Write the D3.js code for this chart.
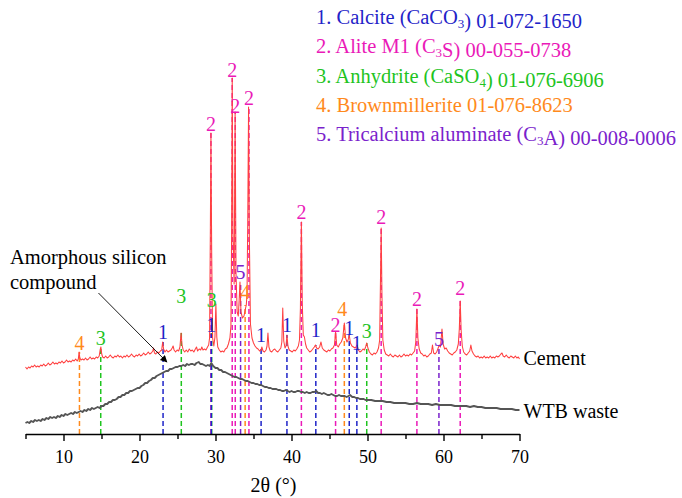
<!DOCTYPE html>
<html>
<head>
<meta charset="utf-8">
<script src="https://cdn.jsdelivr.net/npm/d3@7"></script>
<style>
  body { margin: 0; background: #fff; }
  svg { display: block; }
  text { font-family: "Liberation Serif", "Times New Roman", serif; }
</style>
</head>
<body>
<svg id="chart" width="682" height="498"></svg>
<script>
// XRD patterns: [2θ (°), intensity (a.u.)]
const cementPattern = [
  [5.0,67],[5.2,65],[5.4,67],[5.6,66],[5.8,68],[6.0,67],[6.2,69],[6.4,67],[6.6,68],[6.8,67],
  [7.0,69],[7.2,68],[7.4,70],[7.6,68],[7.8,69],[8.0,71],[8.2,69],[8.4,70],[8.6,72],[8.8,70],
  [9.0,71],[9.2,70],[9.4,72],[9.6,71],[9.8,73],[10.0,71],[10.2,72],[10.4,74],[10.6,72],[10.8,73],
  [11.0,72],[11.2,74],[11.4,73],[11.6,75],[11.8,73],[11.95,75],[12.05,82],[12.15,76],[12.3,74],[12.5,75],
  [12.7,74],[12.9,76],[13.1,74],[13.3,75],[13.5,77],[13.7,75],[13.9,76],[14.1,75],[14.3,77],[14.5,76],
  [14.7,78],[14.82,84],[14.92,87],[15.03,80],[15.15,77],[15.35,76],[15.55,78],[15.75,76],[15.95,77],[16.15,79],
  [16.35,77],[16.55,76],[16.75,78],[16.95,77],[17.15,79],[17.35,77],[17.55,78],[17.75,76],[17.95,78],[18.15,77],
  [18.35,79],[18.55,77],[18.75,78],[18.95,80],[19.15,78],[19.35,77],[19.55,79],[19.75,78],[19.95,80],[20.15,78],
  [20.35,79],[20.55,81],[20.75,79],[20.95,80],[21.15,82],[21.35,80],[21.55,81],[21.75,83],[21.85,86],[21.97,81],
  [22.15,80],[22.35,82],[22.55,81],[22.75,83],[22.92,84],[23.05,92],[23.17,85],[23.35,82],[23.55,84],[23.75,82],
  [23.95,83],[24.15,84],[24.3,86],[24.42,88],[24.55,84],[24.75,82],[24.95,84],[25.15,83],[25.32,87],[25.47,101],
  [25.6,89],[25.75,84],[25.95,82],[26.15,84],[26.35,82],[26.55,85],[26.75,83],[26.95,84],[27.15,82],[27.35,85],
  [27.5,87],[27.65,83],[27.85,85],[28.05,84],[28.2,87],[28.35,84],[28.55,85],[28.75,84],[28.95,87],[29.1,89],
  [29.22,96],[29.32,200],[29.4,301],[29.5,180],[29.62,96],[29.78,88],[29.93,97],[30.05,130],[30.17,97],[30.3,87],
  [30.5,84],[30.7,82],[30.9,83],[31.1,82],[31.3,85],[31.5,86],[31.7,90],[31.9,96],[32.03,108],[32.12,200],
  [32.2,356],[32.3,200],[32.45,150],[32.58,322],[32.7,160],[32.85,122],[33.0,118],[33.12,135],[33.22,152],[33.35,122],
  [33.55,116],[33.75,118],[33.9,124],[34.05,129],[34.15,140],[34.25,220],[34.35,327],[34.45,200],[34.6,110],[34.8,96],
  [35.0,91],[35.2,88],[35.4,86],[35.6,85],[35.8,83],[36.0,84],[36.1,87],[36.25,83],[36.45,82],[36.65,84],
  [36.78,88],[36.9,101],[37.03,87],[37.2,83],[37.4,82],[37.6,84],[37.8,85],[38.0,83],[38.2,82],[38.4,84],
  [38.6,86],[38.73,92],[38.85,126],[38.98,93],[39.15,86],[39.28,88],[39.4,99],[39.53,88],[39.7,84],[39.9,83],
  [40.1,82],[40.3,84],[40.5,83],[40.7,85],[40.9,88],[41.05,94],[41.17,125],[41.3,212],[41.42,130],[41.55,99],
  [41.7,97],[41.85,90],[42.0,86],[42.2,84],[42.4,82],[42.6,83],[42.8,85],[43.0,87],[43.15,89],[43.3,86],
  [43.5,85],[43.7,87],[43.88,92],[44.05,86],[44.25,84],[44.45,83],[44.65,82],[44.85,84],[45.05,83],[45.25,85],
  [45.45,86],[45.65,89],[45.8,102],[45.95,89],[46.15,87],[46.35,90],[46.55,92],[46.75,96],[46.95,111],[47.12,96],
  [47.3,92],[47.45,94],[47.6,99],[47.75,91],[47.95,88],[48.15,87],[48.35,86],[48.5,87],[48.62,89],[48.8,84],
  [49.0,82],[49.2,83],[49.4,85],[49.6,84],[49.75,87],[49.9,91],[50.05,86],[50.25,82],[50.45,80],[50.65,79],
  [50.85,81],[51.05,80],[51.25,82],[51.45,86],[51.6,94],[51.7,150],[51.8,206],[51.9,140],[52.02,94],[52.2,84],
  [52.4,80],[52.6,79],[52.8,78],[53.0,80],[53.2,78],[53.4,77],[53.6,79],[53.8,78],[54.0,77],[54.2,79],
  [54.4,77],[54.6,78],[54.8,80],[55.0,78],[55.2,79],[55.4,78],[55.6,80],[55.8,79],[56.0,81],[56.2,83],
  [56.35,92],[56.5,125],[56.63,96],[56.8,85],[57.0,81],[57.2,80],[57.4,78],[57.6,79],[57.8,77],[58.0,78],
  [58.2,80],[58.4,81],[58.55,89],[58.7,81],[58.9,80],[59.1,82],[59.25,85],[59.45,89],[59.6,87],[59.8,105],
  [59.95,90],[60.15,85],[60.35,86],[60.55,83],[60.75,81],[60.95,80],[61.15,79],[61.35,81],[61.55,82],[61.75,84],
  [61.95,90],[62.08,105],[62.2,133],[62.32,104],[62.47,88],[62.65,82],[62.85,80],[63.05,79],[63.25,81],[63.45,83],
  [63.6,89],[63.75,83],[63.95,80],[64.15,78],[64.35,77],[64.55,78],[64.75,76],[64.95,77],[65.15,76],[65.35,78],
  [65.55,76],[65.75,77],[65.95,76],[66.15,78],[66.35,76],[66.55,77],[66.75,76],[66.95,78],[67.15,77],[67.35,78],
  [67.55,80],[67.7,81],[67.85,78],[68.05,77],[68.25,79],[68.45,77],[68.65,76],[68.85,78],[69.05,77],[69.25,76],
  [69.45,78],[69.65,76],[69.85,77],[70.0,75]
];

const wtbPattern = [
  [5,11],[5.25,12],[5.5,11],[5.75,13],[6,12],[6.25,14],[6.5,13],[6.75,14],[7,13],[7.25,15],
  [7.5,14],[7.75,16],[8,15],[8.25,17],[8.5,16],[8.75,17],[9,16],[9.25,18],[9.5,17],[9.75,19],
  [10,18],[10.25,20],[10.5,19],[10.75,20],[11,21],[11.25,20],[11.5,22],[11.75,21],[12,22],[12.25,23],
  [12.5,22],[12.75,24],[13,23],[13.25,25],[13.5,24],[13.75,26],[14,25],[14.25,26],[14.5,27],[14.75,26],
  [15,28],[15.25,28],[15.5,30],[15.75,30],[16,32],[16.25,32],[16.5,34],[16.75,34],[17,35],[17.25,37],
  [17.5,37],[17.75,39],[18,39],[18.25,41],[18.5,41],[18.75,43],[19,43],[19.25,44],[19.5,45],[19.75,46],
  [20,46],[20.25,48],[20.5,49],[20.75,51],[21,51],[21.25,53],[21.5,54],[21.75,56],[22,56],[22.25,58],
  [22.5,59],[22.75,60],[23,61],[23.25,62],[23.5,63],[23.75,63],[24,65],[24.25,65],[24.5,66],[24.75,67],
  [25,67],[25.25,68],[25.5,68],[25.75,69],[26,68],[26.25,70],[26.5,69],[26.75,70],[27,70],[27.25,69],
  [27.5,71],[27.8,72],[28,70],[28.25,70],[28.5,69],[28.75,68],[29,69],[29.25,68],[29.45,71],[29.7,68],
  [30,66],[30.25,66],[30.5,64],[30.75,64],[31,62],[31.25,62],[31.5,61],[31.75,60],[32,59],[32.25,58],
  [32.5,57],[32.75,57],[33,56],[33.25,55],[33.5,55],[33.75,54],[34,53],[34.25,53],[34.5,52],[34.75,51],
  [35,51],[35.25,50],[35.5,50],[35.75,49],[36,49],[36.25,48],[36.5,47],[36.75,47],[37,46],[37.25,46],
  [37.5,45],[37.75,45],[38,45],[38.25,44],[38.5,44],[38.75,43],[39,43],[39.25,44],[39.5,43],[39.75,42],
  [40,43],[40.25,42],[40.5,42],[40.75,43],[41,43],[41.25,42],[41.5,42],[41.75,41],[42,42],[42.25,41],
  [42.5,41],[42.75,42],[43,42],[43.25,43],[43.5,41],[43.75,41],[44,40],[44.25,41],[44.5,40],[44.75,39],
  [45,39],[45.25,40],[45.5,39],[45.75,38],[46,38],[46.25,39],[46.5,38],[46.75,38],[47,38],[47.25,37],
  [47.5,38],[47.7,39],[48,37],[48.25,37],[48.5,36],[48.75,36],[49,35],[49.25,35],[49.5,35],[49.75,34],
  [50,34],[50.5,34],[51,33],[51.5,33],[52,33],[52.5,32],[53,32],[53.5,31],[54,31],[54.5,31],
  [55,31],[55.5,30],[56,30],[56.5,31],[57,30],[57.5,30],[58,30],[58.5,29],[59,30],[59.5,29],
  [60,29],[60.5,29],[61,29],[61.5,28],[62,28],[62.5,28],[63,28],[63.5,27],[64,28],[64.5,27],
  [65,27],[65.5,26],[66,26],[66.5,26],[67,26],[67.5,25],[68,25],[68.5,25],[69,25],[69.5,24],
  [70,24]
];

// Phase legend entries ("_" marks a one-character subscript)
const phaseIds = [1, 2, 3, 4, 5];
const phaseLabels = [
  "1. Calcite (CaCO_3) 01-072-1650",
  "2. Alite M1 (C_3S) 00-055-0738",
  "3. Anhydrite (CaSO_4) 01-076-6906",
  "4. Brownmillerite 01-076-8623",
  "5. Tricalcium aluminate (C_3A) 00-008-0006"
];

// Reflection markers: phase id, 2θ, intensity where the drop line ends, intensity of the label
const markerPhase = [4, 3, 1, 3, 2, 3, 1, 2, 2, 5, 4, 2, 1, 1, 2, 1, 2, 4, 1, 1, 3, 2, 2, 5, 2];
const markerPos   = [12.1, 14.9, 23.1, 25.5, 29.4, 29.5, 29.45, 32.2, 32.6, 33.3, 33.9, 34.4, 36.0, 39.4, 41.3, 43.2, 45.8, 46.95, 47.6, 48.6, 49.9, 51.8, 56.5, 59.4, 62.2];
const markerTop   = [82, 87, 92, 101, 301, 110, 100, 356, 322, 150, 129, 327, 86, 99, 212, 89, 102, 111, 99, 89, 91, 206, 125, 89, 133];
const markerLabel = [91, 96, 102, 138, 310, 134, 109, 364, 328, 162, 142, 336, 99, 109, 222, 104, 109, 125, 106, 91, 103, 217, 135, 95, 146];

const xTicksMajor = [10, 20, 30, 40, 50, 60, 70];
const xTicksMinor = [5, 15, 25, 35, 45, 55, 65];

const seriesNames = ["Cement", "WTB waste"];

// ---- drawing ----
const phaseColor = d3.scaleOrdinal()
  .domain(phaseIds)
  .range(["#1f24c8", "#ea1ab8", "#1fc41f", "#ff8a1c", "#7a22cc"]);

const svg = d3.select("#chart");
const x = d3.scaleLinear().domain([5, 70]).range([25.5, 519.5]);
const y = d3.scaleLinear().domain([0, 430]).range([434, 4]);

const markers = markerPos.map((p, i) => ({
  phase: markerPhase[i], pos: p, top: markerTop[i], label: markerLabel[i]
}));

// dashed drop lines for the reflections
svg.append("g").selectAll("line").data(markers).join("line")
  .attr("x1", d => x(d.pos)).attr("x2", d => x(d.pos))
  .attr("y1", y(0)).attr("y2", d => y(d.top))
  .attr("stroke", d => phaseColor(d.phase))
  .attr("stroke-width", 1.5)
  .attr("stroke-dasharray", "5,3");

const line = d3.line().x(d => x(d[0])).y(d => y(d[1]));

svg.append("path").datum(wtbPattern)
  .attr("d", line).attr("fill", "none")
  .attr("stroke", "#555").attr("stroke-width", 1.9)
  .attr("stroke-linejoin", "round");

svg.append("path").datum(cementPattern)
  .attr("d", line).attr("fill", "none")
  .attr("stroke", "#ff4040").attr("stroke-width", 1.05)
  .attr("stroke-linejoin", "round");

// reflection labels (the crowded Brownmillerite label near 47° sits a little to the left)
svg.append("g").selectAll("text").data(markers).join("text")
  .attr("x", d => x(d.pos) - (d.phase === 4 && d.pos > 46 ? 2 : 0))
  .attr("y", d => y(d.label))
  .attr("text-anchor", "middle").attr("dominant-baseline", "central")
  .attr("font-size", 20)
  .attr("fill", d => phaseColor(d.phase))
  .text(d => d.phase);

// x axis
const axisG = svg.append("g").attr("transform", `translate(0,${y(0)})`);
axisG.call(d3.axisBottom(x).tickValues(xTicksMajor).tickSize(7).tickSizeOuter(0).tickPadding(9).tickFormat(d3.format("d")));
axisG.append("g").call(d3.axisBottom(x).tickValues(xTicksMinor).tickSize(5).tickSizeOuter(0).tickFormat(""))
  .select(".domain").remove();
axisG.selectAll(".domain").attr("stroke", "#000").attr("stroke-width", 1.6);
axisG.selectAll(".tick line").attr("stroke", "#000").attr("stroke-width", 1.4);
axisG.selectAll(".tick text")
  .attr("font-size", 18).attr("fill", "#000");

svg.append("text")
  .attr("x", (x(5) + x(70)) / 2 + 1).attr("y", 485)
  .attr("text-anchor", "middle").attr("dominant-baseline", "central")
  .attr("font-size", 20).text("2θ (°)");

// series names at the right end of each pattern
const ends = [cementPattern[cementPattern.length - 1], wtbPattern[wtbPattern.length - 1]];
svg.append("g").selectAll("text").data(seriesNames).join("text")
  .attr("x", x(70) + 4)
  .attr("y", (d, i) => y(ends[i][1]) + (i === 0 ? -1 : 1))
  .attr("dominant-baseline", "central")
  .attr("font-size", 20).attr("fill", "#000")
  .text(d => d);

// legend with subscripts
const legend = svg.append("g");
phaseLabels.forEach((label, i) => {
  const t = legend.append("text")
    .attr("x", 316).attr("y", 24 + i * 29.3)
    .attr("font-size", 20.5)
    .attr("fill", phaseColor(phaseIds[i]));
  const parts = label.split(/_(.)/);
  parts.forEach((part, k) => {
    if (k % 2 === 0) {
      t.append("tspan").text(part);
    } else {
      t.append("tspan").attr("font-size", 13).attr("dy", 4).text(part);
      t.append("tspan").attr("dy", -4).text("");
    }
  });
});

// annotation for the amorphous hump
const note = svg.append("text").attr("font-size", 20.5).attr("fill", "#000");
note.append("tspan").attr("x", 10).attr("y", 264).text("Amorphous silicon");
note.append("tspan").attr("x", 10).attr("y", 289).text("compound");

const arrowFrom = [14.6, 141];
const arrowTo = [23.6, 72];
svg.append("defs").append("marker")
  .attr("id", "arrowhead").attr("viewBox", "0 0 10 10")
  .attr("refX", 9).attr("refY", 5)
  .attr("markerWidth", 9).attr("markerHeight", 7)
  .attr("markerUnits", "userSpaceOnUse")
  .attr("orient", "auto")
  .append("path").attr("d", "M0,0 L10,5 L0,10 Z").attr("fill", "#000");
svg.append("line")
  .attr("x1", x(arrowFrom[0])).attr("y1", y(arrowFrom[1]))
  .attr("x2", x(arrowTo[0])).attr("y2", y(arrowTo[1]))
  .attr("stroke", "#000").attr("stroke-width", 0.9)
  .attr("marker-end", "url(#arrowhead)");
</script>
</body>
</html>
